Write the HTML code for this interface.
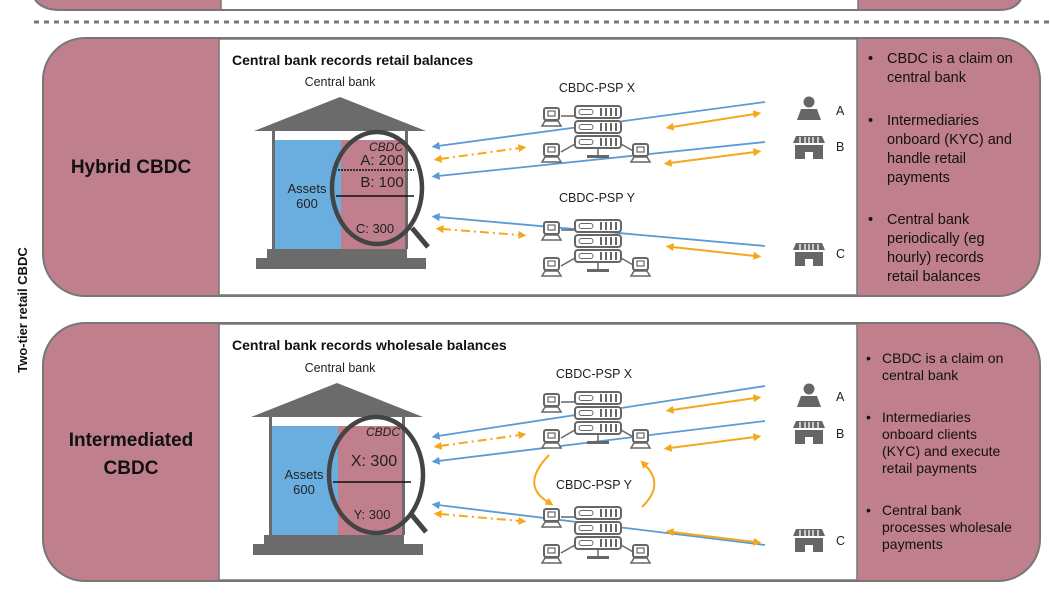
<!DOCTYPE html>
<html><head><meta charset="utf-8"><style>
html,body{margin:0;padding:0;background:#fff;}
svg{display:block;}
text{font-family:"Liberation Sans","DejaVu Sans",sans-serif;}
</style></head><body>
<svg width="1050" height="600" viewBox="0 0 1050 600" xmlns="http://www.w3.org/2000/svg">
<defs>
<marker id="bl" viewBox="0 0 10 10" refX="2" refY="5" markerWidth="4.5" markerHeight="4.5" orient="auto-start-reverse"><path d="M0,0 L10,5 L0,10 z" fill="#5b9bd5"/></marker>
<marker id="or" viewBox="0 0 10 10" refX="2" refY="5" markerWidth="4" markerHeight="4" orient="auto-start-reverse"><path d="M0,0 L10,5 L0,10 z" fill="#f5a81c"/></marker>
<g id="pc">
<rect x="2" y="0" width="15" height="12" rx="2" fill="#fff" stroke="#666" stroke-width="2"/>
<rect x="6" y="3" width="7" height="5" fill="none" stroke="#666" stroke-width="1.2"/>
<path d="M3,13 L16,13 L19,18 L0,18 z" fill="#fff" stroke="#666" stroke-width="1.5"/>
</g>
<g id="srv">
<rect x="0" y="0" width="46" height="12" rx="3" fill="#fff" stroke="#666" stroke-width="2"/>
<rect x="4" y="3.5" width="14" height="5" rx="2.5" fill="none" stroke="#666" stroke-width="1"/>
<path d="M26,2 V10 M31,2 V10 M36,2 V10 M41,2 V10" stroke="#666" stroke-width="2"/>
</g>
<g id="psp">
<path d="M-14,10 H0 M-14,46 L0,38 M46,38 L60,46 M23,42 V49" stroke="#666" stroke-width="1.5" fill="none"/>
<use href="#srv" x="0" y="0"/><use href="#srv" x="0" y="15"/><use href="#srv" x="0" y="30"/>
<rect x="12" y="49" width="22" height="3" fill="#666"/>
<use href="#pc" x="-33" y="2"/><use href="#pc" x="-33" y="38"/><use href="#pc" x="56" y="38"/>
</g>
<g id="shop">
<path d="M-13,0 H13 L16,7 H-16 z" fill="#666"/>
<path d="M-9,1 V7 M-4,1 V7 M0,1 V7 M4,1 V7 M9,1 V7" stroke="#fff" stroke-width="1.3"/>
<path d="M-14,9 H14 V23 H4 V16 H-4 V23 H-14 z" fill="#666"/>
</g>
<g id="person">
<circle cx="0" cy="-4" r="5.5" fill="#666"/>
<path d="M-8,3 H8 L12,14 H-12 z" fill="#666"/>
</g>
</defs>

<!-- top cut panel -->
<path d="M30,-30 V-20 Q30,10 60,10 H1000 Q1025,10 1025,-20 V-30" fill="#c07f8c" stroke="#777" stroke-width="2"/>
<rect x="221" y="-5" width="637" height="14" fill="#fff"/>
<line x1="221" y1="-5" x2="221" y2="10" stroke="#777" stroke-width="1.5"/>
<line x1="858" y1="-5" x2="858" y2="10" stroke="#777" stroke-width="1.5"/>
<line x1="34" y1="22" x2="1050" y2="22" stroke="#777" stroke-width="3" stroke-dasharray="5,5"/>

<!-- Panel 1 -->
<rect x="43" y="38" width="997" height="258" rx="42" fill="#c07f8c" stroke="#777" stroke-width="2"/>
<rect x="219" y="39" width="638" height="256" fill="#fff" stroke="#777" stroke-width="1.5"/>
<text x="131" y="173" font-size="19" font-weight="bold" text-anchor="middle" fill="#111">Hybrid CBDC</text>

<!-- Panel 2 -->
<rect x="43" y="323" width="997" height="258" rx="42" fill="#c07f8c" stroke="#777" stroke-width="2"/>
<rect x="219" y="324" width="638" height="256" fill="#fff" stroke="#777" stroke-width="1.5"/>
<text x="131" y="446" font-size="19" font-weight="bold" text-anchor="middle" fill="#111">Intermediated</text>
<text x="131" y="474" font-size="19" font-weight="bold" text-anchor="middle" fill="#111">CBDC</text>

<text transform="translate(27,310) rotate(-90)" font-size="13" font-weight="bold" text-anchor="middle" fill="#111">Two-tier retail CBDC</text>

<!-- Panel 1 content -->
<text x="232" y="65" font-size="14" font-weight="bold" fill="#111">Central bank records retail balances</text>
<text x="340" y="86" font-size="12.5" text-anchor="middle" fill="#222">Central bank</text>
<g id="bank1">
<path d="M254,131 L340,97 L426,131 z" fill="#6b6b6b"/>
<rect x="275" y="140" width="66" height="109" fill="#6aaee0"/>
<rect x="341" y="140" width="64" height="109" fill="#c07f8c"/>
<rect x="272" y="131" width="3" height="118" fill="#6b6b6b"/><rect x="405" y="131" width="3" height="118" fill="#6b6b6b"/>
<rect x="267" y="249" width="140" height="9" fill="#6b6b6b"/>
<rect x="256" y="258" width="170" height="11" fill="#6b6b6b"/>
<text x="307" y="193" font-size="13" text-anchor="middle" fill="#222">Assets</text>
<text x="307" y="208" font-size="13" text-anchor="middle" fill="#222">600</text>
</g>
<text x="386" y="151" font-size="12" font-style="italic" text-anchor="middle" fill="#222">CBDC</text>
<text x="382" y="165" font-size="15" text-anchor="middle" fill="#222">A: 200</text>
<line x1="338" y1="170" x2="414" y2="170" stroke="#111" stroke-width="1.5" stroke-dasharray="2,1"/>
<text x="382" y="187" font-size="15" text-anchor="middle" fill="#222">B: 100</text>
<line x1="336" y1="196" x2="414" y2="196" stroke="#111" stroke-width="1.5"/>
<text x="375" y="233" font-size="13" text-anchor="middle" fill="#222">C: 300</text>
<ellipse cx="377" cy="188" rx="45" ry="56" fill="none" stroke="#444" stroke-width="4.5"/>
<line x1="412" y1="228" x2="428" y2="247" stroke="#444" stroke-width="5"/>

<line x1="765" y1="102" x2="438" y2="146" stroke="#5b9bd5" stroke-width="1.8" marker-end="url(#bl)"/>
<line x1="765" y1="142" x2="438" y2="176" stroke="#5b9bd5" stroke-width="1.8" marker-end="url(#bl)"/>
<line x1="765" y1="246" x2="438" y2="217" stroke="#5b9bd5" stroke-width="1.8" marker-end="url(#bl)"/>
<line x1="440" y1="159" x2="520" y2="148" stroke="#f5a81c" stroke-width="2" stroke-dasharray="9,4,2,4" marker-start="url(#or)" marker-end="url(#or)"/>
<line x1="442" y1="229" x2="520" y2="235" stroke="#f5a81c" stroke-width="2" stroke-dasharray="9,4,2,4" marker-start="url(#or)" marker-end="url(#or)"/>
<line x1="672" y1="127" x2="755" y2="114" stroke="#f5a81c" stroke-width="2" marker-start="url(#or)" marker-end="url(#or)"/>
<line x1="670" y1="163" x2="755" y2="152" stroke="#f5a81c" stroke-width="2" marker-start="url(#or)" marker-end="url(#or)"/>
<line x1="672" y1="247" x2="755" y2="256" stroke="#f5a81c" stroke-width="2" marker-start="url(#or)" marker-end="url(#or)"/>

<text x="597" y="92" font-size="12.5" text-anchor="middle" fill="#222">CBDC-PSP X</text>
<use href="#psp" x="575" y="106"/>
<text x="597" y="202" font-size="12.5" text-anchor="middle" fill="#222">CBDC-PSP Y</text>
<use href="#psp" x="575" y="220"/>

<use href="#person" x="809" y="106"/>
<text x="836" y="115" font-size="12.5" fill="#222">A</text>
<use href="#shop" x="809" y="136"/>
<text x="836" y="151" font-size="12.5" fill="#222">B</text>
<use href="#shop" x="809" y="243"/>
<text x="836" y="258" font-size="12.5" fill="#222">C</text>

<g font-size="14.5" fill="#111">
<text x="868" y="63">•</text><text x="887" y="63">CBDC is a claim on</text><text x="887" y="82">central bank</text>
<text x="868" y="125">•</text><text x="887" y="125">Intermediaries</text><text x="887" y="144">onboard (KYC) and</text><text x="887" y="163">handle retail</text><text x="887" y="182">payments</text>
<text x="868" y="224">•</text><text x="887" y="224">Central bank</text><text x="887" y="243">periodically (eg</text><text x="887" y="262">hourly) records</text><text x="887" y="281">retail balances</text>
</g>

<!-- Panel 2 content -->
<text x="232" y="350" font-size="14" font-weight="bold" fill="#111">Central bank records wholesale balances</text>
<text x="340" y="372" font-size="12.5" text-anchor="middle" fill="#222">Central bank</text>
<use href="#bank1" x="-3" y="286"/>
<text x="383" y="436" font-size="12" font-style="italic" text-anchor="middle" fill="#222">CBDC</text>
<text x="374" y="466" font-size="16" text-anchor="middle" fill="#222">X: 300</text>
<line x1="333" y1="482" x2="411" y2="482" stroke="#111" stroke-width="1.5"/>
<text x="372" y="519" font-size="13" text-anchor="middle" fill="#222">Y: 300</text>
<ellipse cx="376" cy="475" rx="47" ry="58" fill="none" stroke="#444" stroke-width="4.5"/>
<line x1="411" y1="514" x2="426" y2="532" stroke="#444" stroke-width="5"/>

<line x1="765" y1="386" x2="438" y2="436" stroke="#5b9bd5" stroke-width="1.8" marker-end="url(#bl)"/>
<line x1="765" y1="421" x2="438" y2="461" stroke="#5b9bd5" stroke-width="1.8" marker-end="url(#bl)"/>
<line x1="765" y1="545" x2="438" y2="505" stroke="#5b9bd5" stroke-width="1.8" marker-end="url(#bl)"/>
<line x1="440" y1="446" x2="520" y2="435" stroke="#f5a81c" stroke-width="2" stroke-dasharray="9,4,2,4" marker-start="url(#or)" marker-end="url(#or)"/>
<line x1="440" y1="514" x2="520" y2="521" stroke="#f5a81c" stroke-width="2" stroke-dasharray="9,4,2,4" marker-start="url(#or)" marker-end="url(#or)"/>
<line x1="672" y1="410" x2="755" y2="398" stroke="#f5a81c" stroke-width="2" marker-start="url(#or)" marker-end="url(#or)"/>
<line x1="670" y1="448" x2="755" y2="437" stroke="#f5a81c" stroke-width="2" marker-start="url(#or)" marker-end="url(#or)"/>
<line x1="672" y1="532" x2="755" y2="542" stroke="#f5a81c" stroke-width="2" marker-start="url(#or)" marker-end="url(#or)"/>
<path d="M549,455 Q520,485 548,502" fill="none" stroke="#f5a81c" stroke-width="2" marker-end="url(#or)"/>
<path d="M642,507 Q665,485 645,465" fill="none" stroke="#f5a81c" stroke-width="2" marker-end="url(#or)"/>

<text x="594" y="378" font-size="12.5" text-anchor="middle" fill="#222">CBDC-PSP X</text>
<use href="#psp" x="575" y="392"/>
<text x="594" y="489" font-size="12.5" text-anchor="middle" fill="#222">CBDC-PSP Y</text>
<use href="#psp" x="575" y="507"/>

<use href="#person" x="809" y="393"/>
<text x="836" y="401" font-size="12.5" fill="#222">A</text>
<use href="#shop" x="809" y="421"/>
<text x="836" y="438" font-size="12.5" fill="#222">B</text>
<use href="#shop" x="809" y="529"/>
<text x="836" y="545" font-size="12.5" fill="#222">C</text>

<g font-size="14" fill="#111">
<text x="866" y="363">•</text><text x="882" y="363">CBDC is a claim on</text><text x="882" y="380">central bank</text>
<text x="866" y="422">•</text><text x="882" y="422">Intermediaries</text><text x="882" y="439">onboard clients</text><text x="882" y="456">(KYC) and execute</text><text x="882" y="473">retail payments</text>
<text x="866" y="515">•</text><text x="882" y="515">Central bank</text><text x="882" y="532">processes wholesale</text><text x="882" y="549">payments</text>
</g>
</svg>
</body></html>
